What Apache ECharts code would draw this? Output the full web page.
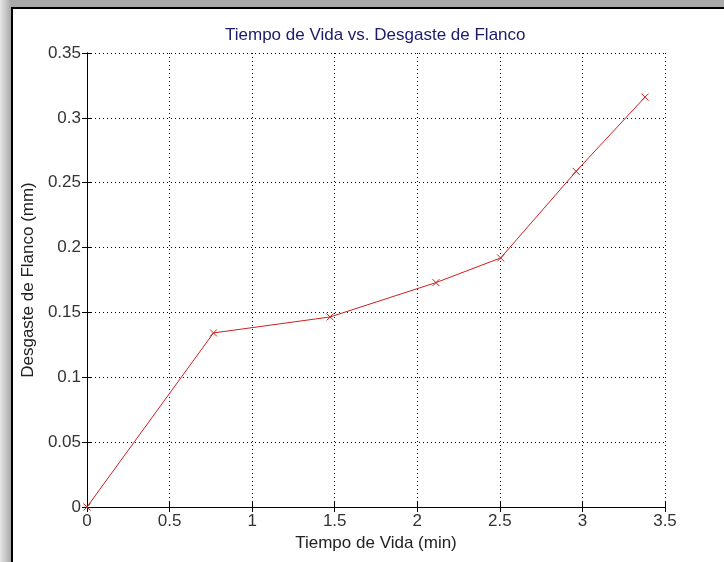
<!DOCTYPE html>
<html>
<head>
<meta charset="utf-8">
<script src="https://cdn.jsdelivr.net/npm/echarts@6/dist/echarts.min.js"></script>
<style>html,body{margin:0;padding:0;background:#fff}#c{width:724px;height:562px}</style>
</head>
<body>
<div id="c"></div>
<script>
const xValues = [0, 0.766, 1.472, 2.113, 2.505, 2.962, 3.379];
const yValues = [0, 0.1342, 0.1465, 0.173, 0.192, 0.2588, 0.316];
const xTicks = [0, 0.5, 1, 1.5, 2, 2.5, 3, 3.5];
const yTicks = [0, 0.05, 0.1, 0.15, 0.2, 0.25, 0.3, 0.35];
const titleText = 'Tiempo de Vida vs. Desgaste de Flanco';
const xName = 'Tiempo de Vida (min)';
const yName = 'Desgaste de Flanco (mm)';

const font = 'Liberation Sans, Arial, sans-serif';
const fs = 17;
const chart = echarts.init(document.getElementById('c'));
const gridLine = {show: true, lineStyle: {color: '#000', type: [1, 3], width: 1}};
const tickFmt = v => String(+v.toFixed(2));
const points = xValues.map((x, i) => [x, yValues[i]]);

chart.setOption({
  animation: false,
  backgroundColor: {
    type: 'linear', x: 0, y: 0, x2: 1, y2: 0,
    colorStops: [{offset: 0, color: '#e6e6e6'}, {offset: 0.015, color: '#a9a9a9'}, {offset: 1, color: '#a9a9a9'}]
  },
  graphic: [{
    type: 'rect', z: -10, silent: true,
    shape: {x: 12, y: 8, width: 800, height: 700},
    style: {fill: '#fff', stroke: '#000', lineWidth: 2}
  }],
  title: {
    text: titleText, left: 220, top: 22,
    textStyle: {fontFamily: font, fontSize: fs, fontWeight: 'normal', color: '#1b1b6b'}
  },
  grid: {left: 87, right: 59, top: 53, bottom: 55, containLabel: false},
  xAxis: [{
    type: 'value', min: xTicks[0], max: xTicks[xTicks.length - 1], interval: 0.5,
    name: xName, nameLocation: 'middle', nameGap: 27,
    nameTextStyle: {fontFamily: font, fontSize: fs, color: '#222'},
    axisLine: {show: true, onZero: false, lineStyle: {color: '#000', width: 1}},
    axisTick: {show: true, inside: true, length: 5, lineStyle: {color: '#000'}},
    axisLabel: {fontFamily: font, fontSize: fs, color: '#333', margin: 6, formatter: tickFmt},
    splitLine: gridLine
  }, {
    type: 'value', position: 'top', min: 0, max: 3.5, interval: 0.5,
    axisLine: {show: true, lineStyle: {color: '#000', width: 1}},
    axisTick: {show: true, inside: true, length: 5, lineStyle: {color: '#000'}},
    axisLabel: {show: false}, splitLine: {show: false}
  }],
  yAxis: [{
    type: 'value', min: yTicks[0], max: yTicks[yTicks.length - 1], interval: 0.05,
    name: yName, nameLocation: 'middle', nameGap: 50,
    nameTextStyle: {fontFamily: font, fontSize: fs, color: '#222'},
    axisLine: {show: true, onZero: false, lineStyle: {color: '#000', width: 1}},
    axisTick: {show: true, inside: true, length: 5, lineStyle: {color: '#000'}},
    axisLabel: {fontFamily: font, fontSize: fs, color: '#333', margin: 6, formatter: tickFmt},
    splitLine: gridLine
  }, {
    type: 'value', position: 'right', min: 0, max: 0.35, interval: 0.05,
    axisLine: {show: true, lineStyle: {color: '#000', width: 1}},
    axisTick: {show: true, inside: true, length: 5, lineStyle: {color: '#000'}},
    axisLabel: {show: false}, splitLine: {show: false}
  }],
  series: [{
    type: 'line', xAxisIndex: 0, yAxisIndex: 0,
    data: points,
    lineStyle: {color: '#cc1f1f', width: 1},
    symbol: 'path://M0,0L10,10M10,0L0,10',
    symbolSize: 7,
    showAllSymbol: true,
    itemStyle: {color: 'none', borderColor: '#cc1f1f', borderWidth: 1}
  }]
});
</script>
</body>
</html>
